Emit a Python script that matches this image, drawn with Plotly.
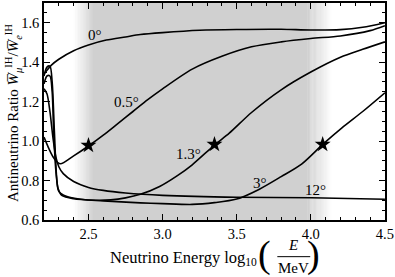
import plotly.graph_objects as go

# ---- data ----
x_0 = [2.2, 2.25, 2.3, 2.4, 2.5, 2.62, 2.75, 2.85, 3.0, 3.25, 3.5, 3.8, 4.0, 4.2, 4.35, 4.5]
y_0 = [1.34, 1.385, 1.415, 1.458, 1.487, 1.512, 1.528, 1.54, 1.55, 1.562, 1.566, 1.567, 1.563, 1.565, 1.577, 1.60]

x_05 = [2.2, 2.24, 2.27, 2.31, 2.4, 2.5, 2.6, 2.7, 2.8, 2.9, 3.0, 3.2, 3.4, 3.6, 3.8, 4.0, 4.2, 4.4, 4.5]
y_05 = [1.02, 0.95, 0.91, 0.885, 0.925, 0.975, 1.03, 1.09, 1.15, 1.21, 1.265, 1.365, 1.43, 1.478, 1.503, 1.52, 1.533, 1.56, 1.585]

x_13 = [2.2, 2.22, 2.24, 2.255, 2.27, 2.285, 2.3, 2.35, 2.45, 2.55, 2.65, 2.75, 2.85, 2.98, 3.1, 3.2, 3.35, 3.45, 3.6, 3.8, 4.0, 4.2, 4.35, 4.5]
y_13 = [1.33, 1.375, 1.38, 1.3, 1.05, 0.82, 0.745, 0.72, 0.705, 0.70, 0.702, 0.712, 0.73, 0.77, 0.825, 0.88, 0.98, 1.04, 1.145, 1.26, 1.35, 1.425, 1.465, 1.503]

x_3 = [2.2, 2.22, 2.24, 2.255, 2.265, 2.28, 2.295, 2.32, 2.4, 2.6, 2.85, 3.0, 3.2, 3.35, 3.5, 3.65, 3.8, 3.94, 4.08, 4.21, 4.35, 4.5]
y_3 = [1.29, 1.33, 1.33, 1.25, 1.05, 0.85, 0.76, 0.725, 0.708, 0.697, 0.687, 0.683, 0.679, 0.688, 0.706, 0.755, 0.82, 0.885, 0.983, 1.067, 1.15, 1.245]

x_12 = [2.2, 2.22, 2.24, 2.26, 2.28, 2.3, 2.33, 2.4, 2.5, 2.6, 2.75, 3.0, 3.5, 4.0, 4.5]
y_12 = [1.265, 1.24, 1.15, 1.02, 0.92, 0.87, 0.835, 0.795, 0.765, 0.75, 0.737, 0.725, 0.715, 0.713, 0.705]

star_x = [2.5, 3.35, 4.08]
star_y = [0.978, 0.983, 0.983]

curve_labels = ["0°", "0.5°", "1.3°", "3°", "12°"]
label_x = [2.544, 2.758, 3.174, 3.657, 4.029]
label_y = [1.54, 1.20, 0.937, 0.79, 0.753]

band_lo = [2.40, 2.53]   # fade-in region of the shaded band
band_hi = [3.98, 4.14]   # fade-out region

x_ticks = [2.5, 3.0, 3.5, 4.0, 4.5]
y_ticks = [0.6, 0.8, 1.0, 1.2, 1.4, 1.6]

FONT = "Liberation Serif"
GRAY = (208, 208, 208)

fig = go.Figure()

for xs, ys in [(x_0, y_0), (x_05, y_05), (x_13, y_13), (x_3, y_3), (x_12, y_12)]:
    fig.add_trace(go.Scatter(x=xs, y=ys, mode="lines",
                             line=dict(color="black", width=1.6, shape="spline", smoothing=0.8),
                             showlegend=False, hoverinfo="skip"))

fig.add_trace(go.Scatter(x=star_x, y=star_y, mode="markers",
                         marker=dict(symbol="star", size=12, color="black"),
                         showlegend=False))

# shaded band with soft edges
shapes = []
N = 20
def rect(x0, x1, op):
    return dict(type="rect", xref="x", yref="paper", x0=x0, x1=x1, y0=0, y1=1,
                fillcolor=f"rgba({GRAY[0]},{GRAY[1]},{GRAY[2]},{op:.3f})",
                line=dict(width=0), layer="below")
w = (band_lo[1] - band_lo[0]) / N
for i in range(N):
    shapes.append(rect(band_lo[0] + i * w, band_lo[0] + (i + 1) * w + 1e-4, (i + 0.5) / N))
shapes.append(rect(band_lo[1], band_hi[0], 1.0))
w = (band_hi[1] - band_hi[0]) / N
for i in range(N):
    shapes.append(rect(band_hi[0] + i * w, band_hi[0] + (i + 1) * w + 1e-4, 1 - (i + 0.5) / N))

# fraction bar for the x title
L, R, T, B = 44, 9, 1, 57
PW, PH = 395 - L - R, 277 - T - B
def px(xp): return (xp - L) / PW
def py(yp): return (277 - B - yp) / PH
shapes.append(dict(type="line", xref="paper", yref="paper",
                   x0=px(278), x1=px(311), y0=py(257), y1=py(257),
                   line=dict(color="black", width=1)))

annotations = []
for t, lx, ly in zip(curve_labels, label_x, label_y):
    annotations.append(dict(x=lx, y=ly, text=t, showarrow=False, xref="x", yref="y",
                            font=dict(family=FONT, size=15, color="black")))

annotations += [
    dict(x=px(260), y=py(258), xanchor="right", yanchor="middle", xref="paper", yref="paper",
         text="Neutrino Energy log<sub>10</sub>", showarrow=False,
         font=dict(family=FONT, size=16.5, color="black")),
    dict(x=px(265), y=py(255), xanchor="center", yanchor="middle", xref="paper", yref="paper",
         text="(", showarrow=False, font=dict(family=FONT, size=38, color="black")),
    dict(x=px(314), y=py(255), xanchor="center", yanchor="middle", xref="paper", yref="paper",
         text=")", showarrow=False, font=dict(family=FONT, size=38, color="black")),
    dict(x=px(294), y=py(245), xanchor="center", yanchor="middle", xref="paper", yref="paper",
         text="<i>E</i>", showarrow=False, font=dict(family=FONT, size=15, color="black")),
    dict(x=px(294), y=py(268), xanchor="center", yanchor="middle", xref="paper", yref="paper",
         text="MeV", showarrow=False, font=dict(family=FONT, size=15, color="black")),
    dict(x=px(13), y=py(112), xanchor="center", yanchor="middle", xref="paper", yref="paper",
         textangle=-90, showarrow=False,
         text="Antineutrino Ratio <i>W\u0305</i><sub><i>μ</i></sub><sup>IH</sup>/<i>W\u0305</i><sub><i>e</i></sub><sup>IH</sup>",
         font=dict(family=FONT, size=15, color="black")),
]

axis_common = dict(showline=True, linecolor="black", linewidth=1.6, mirror="allticks",
                   ticks="inside", ticklen=6, tickwidth=1.2, tickcolor="black",
                   showgrid=False, zeroline=False,
                   tickfont=dict(family=FONT, size=14.5, color="black"))

fig.update_layout(
    width=395, height=277,
    margin=dict(l=L, r=R, t=T, b=B),
    plot_bgcolor="white", paper_bgcolor="white",
    shapes=shapes, annotations=annotations,
    xaxis=dict(range=[2.2, 4.5005], tickvals=x_ticks, ticktext=[f"{v:.1f}" for v in x_ticks],
               minor=dict(dtick=0.1, tick0=2.2, ticklen=3, ticks="inside", tickcolor="black"),
               **axis_common),
    yaxis=dict(range=[0.6, 1.7], tickvals=y_ticks, ticktext=[f"{v:.1f}" for v in y_ticks],
               minor=dict(dtick=0.05, tick0=0.6, ticklen=3, ticks="inside", tickcolor="black"),
               **axis_common),
)

fig.write_html("out.html", post_script="document.body.style.margin='0';",
               config={"displayModeBar": False})
